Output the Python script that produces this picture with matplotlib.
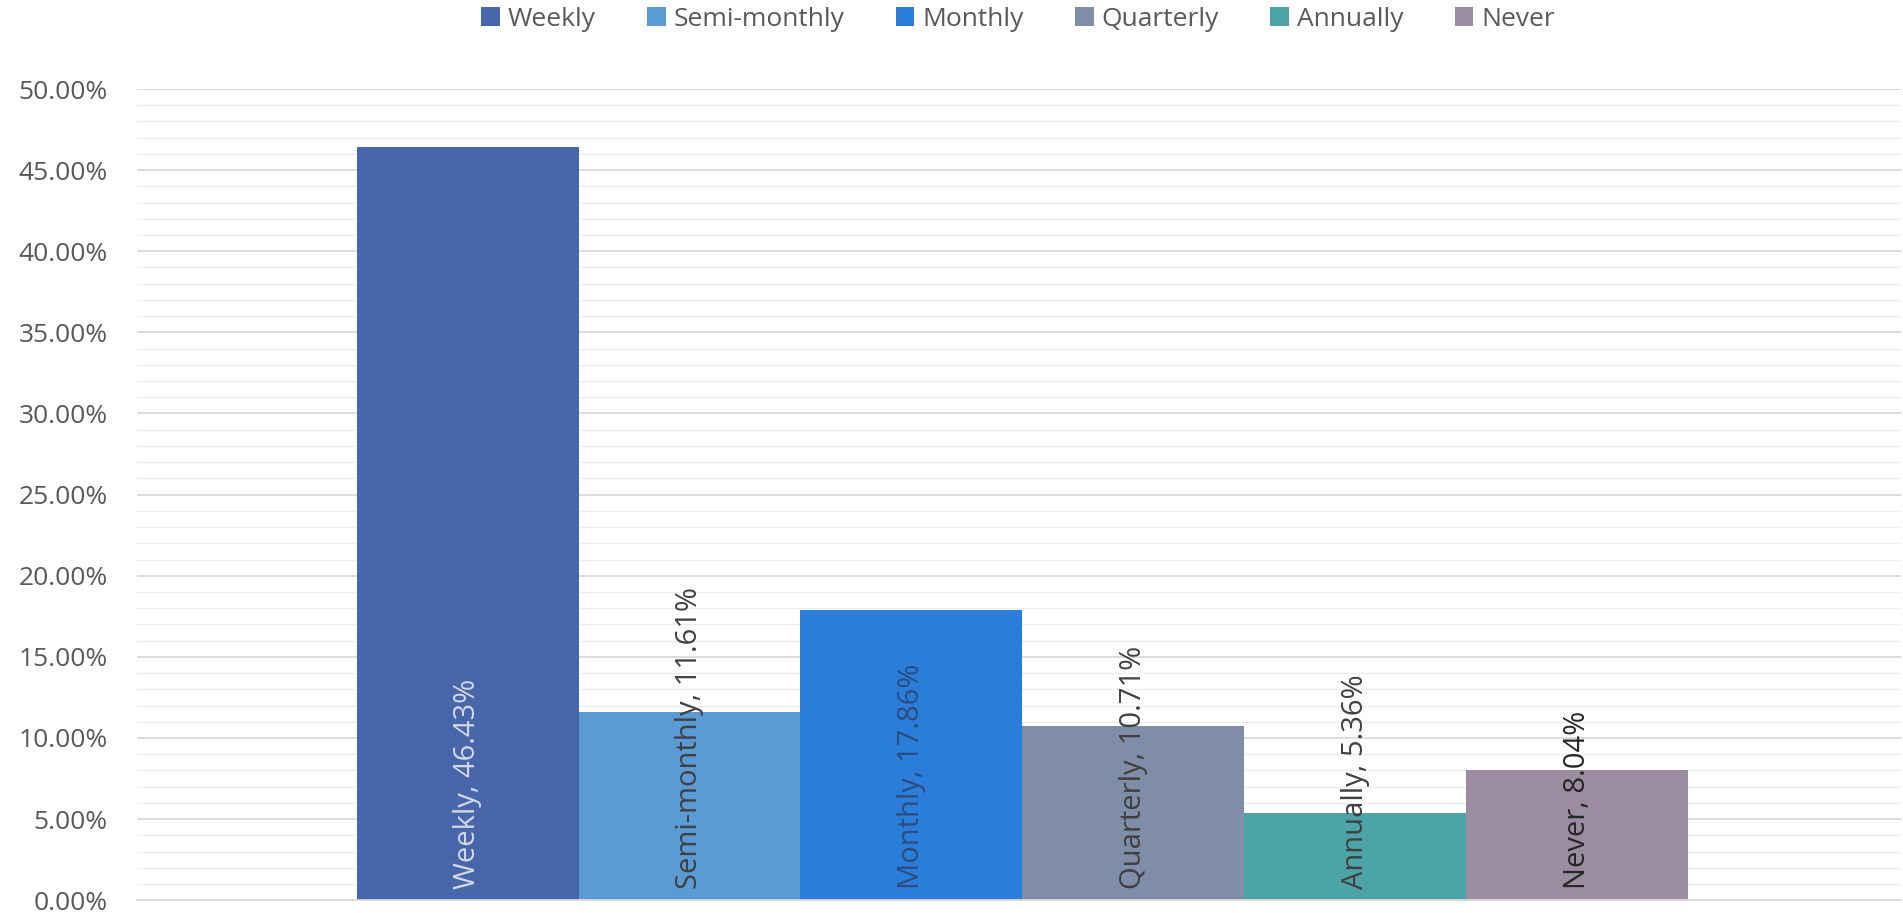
import matplotlib.pyplot as plt
import numpy as np

# Share of respondents by frequency (in %)
categories = ["Weekly", "Semi-monthly", "Monthly", "Quarterly", "Annually", "Never"]
values = [46.43, 11.61, 17.86, 10.71, 5.36, 8.04]
colors = ["#4866AC", "#5B9BD5", "#2A7DD9", "#7F8DA8", "#4CA4A7", "#9B8CA0"]
label_colors = ["#D4D8E4", "#404040", "#2E4C80", "#404040", "#404040", "#262626"]
y_ticks = [0, 5, 10, 15, 20, 25, 30, 35, 40, 45, 50]

plt.rcParams['font.family'] = ['Open Sans', 'DejaVu Sans']

fig = plt.figure(figsize=(19.03, 9.13), dpi=100)
ax = fig.add_axes([0.072, 0.014, 0.927, 0.8885])

x = np.arange(len(categories))
for i in range(len(categories)):
    ax.bar(x[i], values[i], width=1.0, color=colors[i], label=categories[i], zorder=2)
    ax.annotate(f"{categories[i]}, {values[i]:.2f}%", (x[i], 0), xytext=(0, 8),
                textcoords="offset points", rotation=90, ha="center", va="bottom",
                fontsize=21, color=label_colors[i], zorder=3)

ax.set_xlim(-1.49, 6.46)
ax.set_ylim(0, 50)
ax.set_yticks(y_ticks)
ax.set_yticklabels([f"{t:.2f}%" for t in y_ticks])
ax.set_yticks(np.arange(0, 51, 1), minor=True)
ax.set_xticks([])

# gridlines: major every 5%, minor every 1%
ax.grid(axis="y", which="major", color="#D9D9D9", linewidth=1.3, zorder=0)
ax.grid(axis="y", which="minor", color="#EDEDED", linewidth=1.0, zorder=0)
ax.tick_params(axis="y", which="both", length=0, labelsize=19, labelcolor="#595959", pad=21)

for side in ["top", "right", "left"]:
    ax.spines[side].set_visible(False)
ax.spines["bottom"].set_color("#D9D9D9")
ax.spines["bottom"].set_linewidth(1.3)

fig.legend(loc="center", bbox_to_anchor=(0.535, 0.979), ncol=6, frameon=False,
           fontsize=19, labelcolor="#595959", handlelength=0.7, handleheight=0.7,
           handletextpad=0.3, columnspacing=1.95)

plt.savefig("out.png", dpi=100)
